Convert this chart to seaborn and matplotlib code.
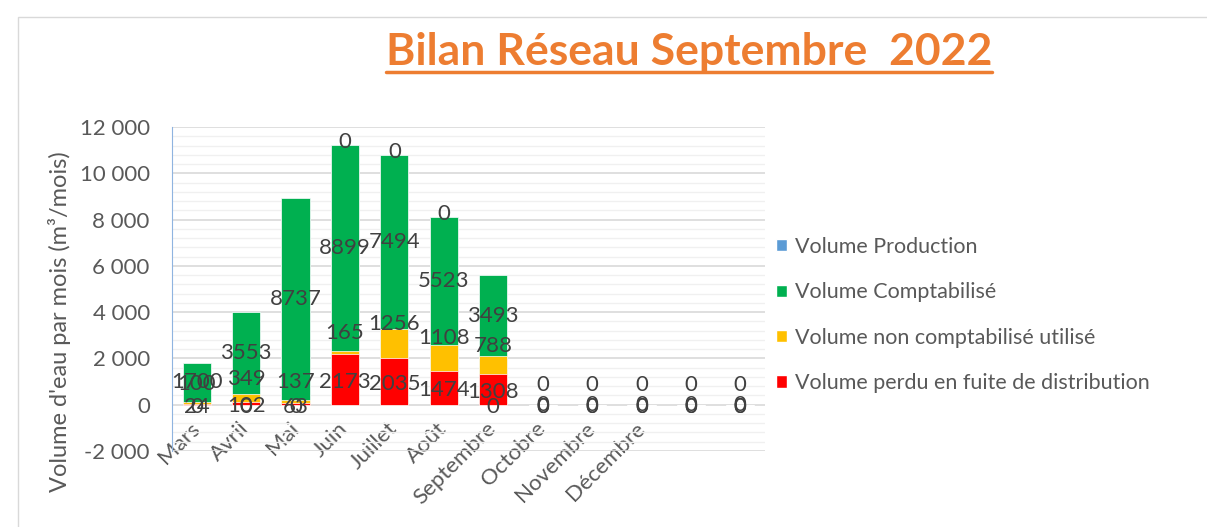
import matplotlib
matplotlib.use("Agg")
import matplotlib.pyplot as plt
from matplotlib.lines import Line2D
from matplotlib.patches import Patch, Rectangle
from matplotlib.ticker import MultipleLocator, FuncFormatter
import seaborn as sns

# données (m3 / mois)
mois = ["Mars", "Avril", "Mai", "Juin", "Juillet", "Août", "Septembre",
        "Octobre", "Novembre", "Décembre", " ", "  "]
production = [0, 0, 0, 0, 0, 0, 0, 0, 0, 0, 0, 0]
comptabilise = [1700, 3553, 8737, 8899, 7494, 5523, 3493, 0, 0, 0, 0, 0]
non_comptabilise = [100, 349, 137, 165, 1256, 1108, 788, 0, 0, 0, 0, 0]
perdu = [24, 102, 63, 2173, 2035, 1474, 1308, 0, 0, 0, 0, 0]
prod_en_haut = ["Juin", "Juillet", "Août"]   # étiquette "0" posée en haut de pile

series = ["Volume Production", "Volume Comptabilisé",
          "Volume non comptabilisé utilisé",
          "Volume perdu en fuite de distribution"]
couleurs = ["#5B9BD5", "#00B050", "#FFC000", "#FF0000"]

TXT = "#595959"
LBL = "#404040"
FS = 16

sns.set_style("white")
plt.rcParams["font.family"] = ["Lato", "DejaVu Sans"]

fig = plt.figure(figsize=(12.07, 5.27), dpi=100)
ax = fig.add_axes([172 / 1207, 1 - 451 / 527, 593 / 1207, 324 / 527])

# piles : on trace les cumuls du plus haut au plus bas
cum_r = perdu
cum_j = [r + j for r, j in zip(perdu, non_comptabilise)]
cum_v = [c + v for c, v in zip(cum_j, comptabilise)]
cum_p = [c + p for c, p in zip(cum_v, production)]

for haut, coul in zip([cum_p, cum_v, cum_j, cum_r], couleurs):
    sns.barplot(x=mois, y=haut, order=mois, color=coul, saturation=1,
                width=0.57, errorbar=None, edgecolor="white", linewidth=0.5,
                ax=ax)

ax.set_xlim(-0.5, len(mois) - 0.5)
ax.set_ylim(-2000, 12000)
ax.yaxis.set_major_locator(MultipleLocator(2000))
ax.yaxis.set_minor_locator(MultipleLocator(400))
ax.yaxis.set_major_formatter(FuncFormatter(lambda v, p: f"{v:,.0f}".replace(",", " ")))
ax.grid(which="major", axis="y", color="#D9D9D9", lw=1.2)
ax.grid(which="minor", axis="y", color="#F0F0F0", lw=1.0)
ax.set_axisbelow(True)

for s in ["top", "right"]:
    ax.spines[s].set_visible(False)
ax.spines["left"].set_color("#8FB4E0")
ax.spines["bottom"].set_position(("data", 0))
ax.spines["bottom"].set_visible(False)

ax.tick_params(axis="y", which="major", direction="out", length=6,
               color="#8FB4E0", labelcolor=TXT, labelsize=FS, pad=10)
ax.tick_params(axis="y", which="minor", length=0)
ax.set_xticks(range(len(mois)))
ax.set_xticklabels(mois, rotation=45, ha="right", va="center",
                   rotation_mode="anchor", fontsize=FS, color=TXT)
ax.tick_params(axis="x", length=0, pad=15)
ax.set_xlabel("")
ax.set_ylabel("Volume d'eau par mois (m³/mois)", fontsize=FS + 1, color=TXT)
ax.yaxis.set_label_coords(-0.17, 0.40)

# étiquettes de données
def etiquette(txt, x, y, dy=0):
    ax.annotate(txt, (x, y), xytext=(0, dy), textcoords="offset points",
                ha="center", va="center", fontsize=FS, color=LBL)

for i, m in enumerate(mois):
    r, j, v = perdu[i], non_comptabilise[i], comptabilise[i]
    etiquette(str(v), i, r + j + v / 2)
    etiquette(str(j), i, r + j / 2, dy=14)
    etiquette(str(r), i, r / 2, dy=-2)
    y_p = cum_p[i] if m in prod_en_haut else 0
    etiquette(str(production[i]), i, y_p, dy=2 if m in prod_en_haut else -2)

# légende
poignees = [Patch(facecolor=c, label=s) for s, c in zip(series, couleurs)]
fig.legend(handles=poignees, loc="center left",
           bbox_to_anchor=(757 / 1207, 1 - 315 / 527), frameon=False,
           fontsize=15.5, handlelength=0.5, handleheight=0.5,
           handletextpad=0.35, labelspacing=1.18, labelcolor=TXT)

# titre souligné
titre = fig.text(689 / 1207, 1 - 65 / 527, "Bilan Réseau Septembre  2022",
                 ha="center", va="baseline", fontsize=32, fontweight="bold",
                 color="#ED7D31")
fig.canvas.draw()
bb = titre.get_window_extent()
W, H = fig.bbox.width, fig.bbox.height
fig.add_artist(Line2D([bb.x0 / W, bb.x1 / W], [1 - 72 / 527] * 2,
                      transform=fig.transFigure, color="#ED7D31", lw=2.5))

# cadre du graphique
fig.add_artist(Rectangle((18 / 1207, -0.02), 1.0, 1 - 17 / 527 + 0.02,
                         transform=fig.transFigure, fill=False,
                         edgecolor="#D9D9D9", lw=1))

fig.savefig("out.png", dpi=100)
plt.close(fig)
